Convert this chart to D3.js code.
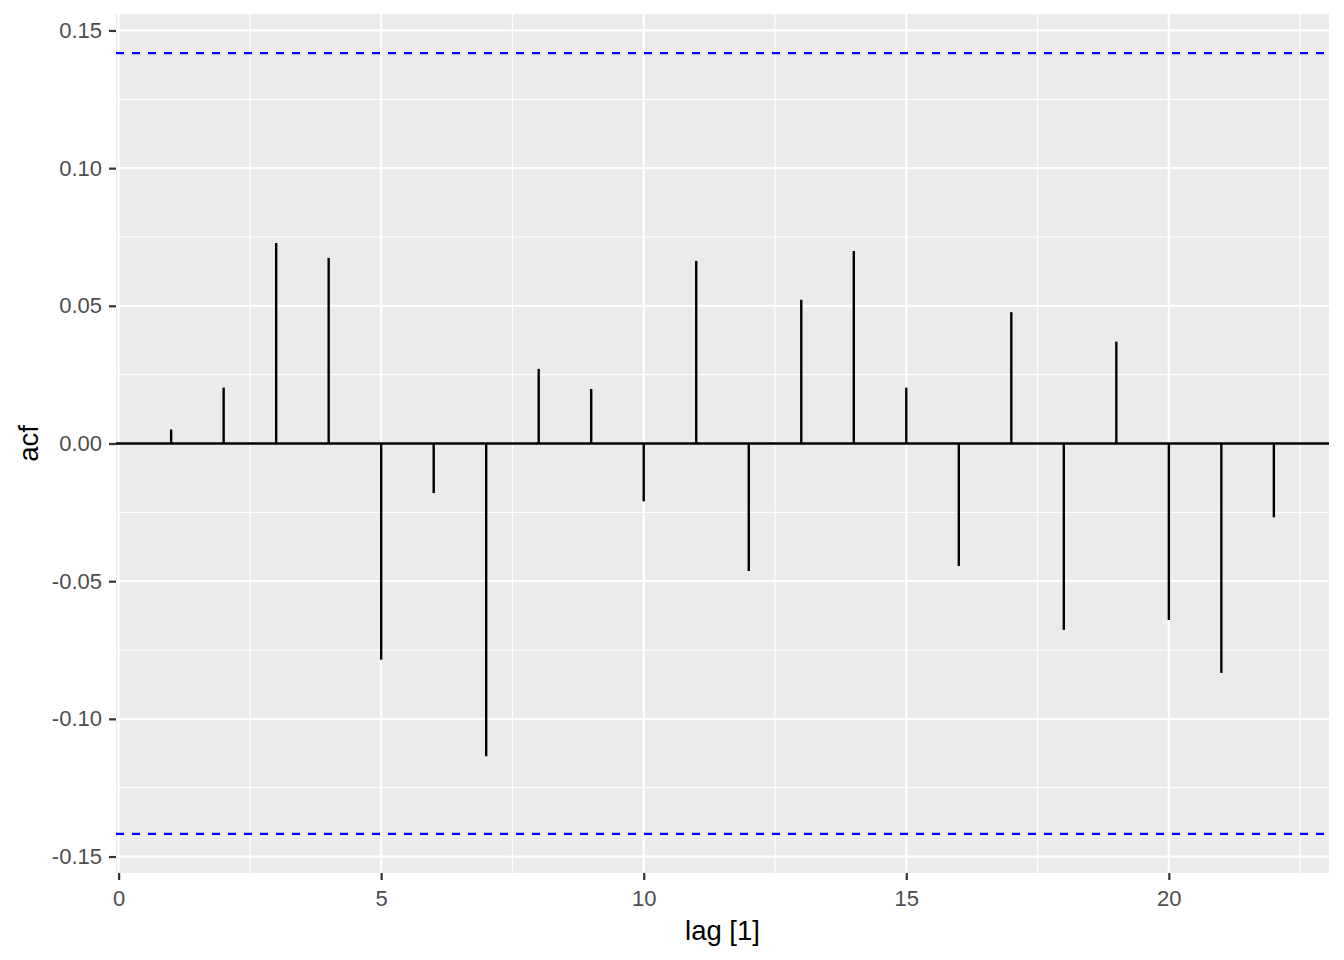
<!DOCTYPE html>
<html>
<head>
<meta charset="utf-8">
<script src="https://cdn.jsdelivr.net/npm/d3@7"></script>
<style>
  body { margin: 0; background: #fff; }
  svg { display: block; font-family: "Liberation Sans", Arial, sans-serif; }
</style>
</head>
<body>
<svg id="chart" width="1344" height="960"></svg>
<script>
const lags = [1,2,3,4,5,6,7,8,9,10,11,12,13,14,15,16,17,18,19,20,21,22];
const acfValues = [0.0051, 0.0203, 0.0728, 0.0674, -0.0785, -0.0180, -0.1136, 0.0271, 0.0198, -0.0210,
                   0.0663, -0.0463, 0.0522, 0.0699, 0.0203, -0.0445, 0.0477, -0.0677, 0.0370, -0.0641,
                   -0.0833, -0.0268];
const ciLimit = 0.1418;
const xTicks = [0, 5, 10, 15, 20];
const xMinor = [2.5, 7.5, 12.5, 17.5, 22.5];
const yTicks = [-0.15, -0.10, -0.05, 0.00, 0.05, 0.10, 0.15];
const yMinor = [-0.125, -0.075, -0.025, 0.025, 0.075, 0.125];
const xTitle = "lag [1]";
const yTitle = "acf";

const svg = d3.select("#chart");
const panel = {left: 116, right: 1329, top: 14, bottom: 873};

const xExt = d3.extent(lags);
const xPad = (xExt[1] - xExt[0]) * 0.05;
const x = d3.scaleLinear().domain([xExt[0] - xPad, xExt[1] + xPad]).range([panel.left, panel.right]);
const yPad = 2 * ciLimit * 0.05;
const y = d3.scaleLinear().domain([-ciLimit - yPad, ciLimit + yPad]).range([panel.bottom, panel.top]);

// panel background
svg.append("rect")
  .attr("x", panel.left).attr("y", panel.top)
  .attr("width", panel.right - panel.left).attr("height", panel.bottom - panel.top)
  .attr("fill", "#EBEBEB");

const grid = svg.append("g");
grid.selectAll(".ym").data(yMinor).join("line")
  .attr("x1", panel.left).attr("x2", panel.right)
  .attr("y1", d => y(d)).attr("y2", d => y(d))
  .attr("stroke", "#fff").attr("stroke-width", 1.2);
grid.selectAll(".xm").data(xMinor).join("line")
  .attr("y1", panel.top).attr("y2", panel.bottom)
  .attr("x1", d => x(d)).attr("x2", d => x(d))
  .attr("stroke", "#fff").attr("stroke-width", 1.2);
grid.selectAll(".yM").data(yTicks).join("line")
  .attr("x1", panel.left).attr("x2", panel.right)
  .attr("y1", d => y(d)).attr("y2", d => y(d))
  .attr("stroke", "#fff").attr("stroke-width", 2.2);
grid.selectAll(".xM").data(xTicks).join("line")
  .attr("y1", panel.top).attr("y2", panel.bottom)
  .attr("x1", d => x(d)).attr("x2", d => x(d))
  .attr("stroke", "#fff").attr("stroke-width", 2.2);

// segments
svg.append("g").selectAll("line").data(lags).join("line")
  .attr("x1", d => x(d)).attr("x2", d => x(d))
  .attr("y1", y(0)).attr("y2", (d, i) => y(acfValues[i]))
  .attr("stroke", "#000").attr("stroke-width", 2.4);

// zero line
svg.append("line")
  .attr("x1", panel.left).attr("x2", panel.right)
  .attr("y1", y(0)).attr("y2", y(0))
  .attr("stroke", "#000").attr("stroke-width", 2.4);

// CI lines
svg.append("g").selectAll("line").data([ciLimit, -ciLimit]).join("line")
  .attr("x1", panel.left).attr("x2", panel.right)
  .attr("y1", d => y(d)).attr("y2", d => y(d))
  .attr("stroke", "#0000FF").attr("stroke-width", 2.2)
  .attr("stroke-dasharray", "8,8");

// axes
const fmtY = d => (d < 0 ? "-" : "") + Math.abs(d).toFixed(2);
const yAxis = svg.append("g")
  .attr("transform", `translate(${panel.left},0)`)
  .call(d3.axisLeft(y).tickValues(yTicks).tickFormat(fmtY).tickSize(7).tickPadding(7));
const xAxis = svg.append("g")
  .attr("transform", `translate(0,${panel.bottom})`)
  .call(d3.axisBottom(x).tickValues(xTicks).tickFormat(d3.format("d")).tickSize(7).tickPadding(10));
[yAxis, xAxis].forEach(a => {
  a.select(".domain").remove();
  a.selectAll(".tick line").attr("stroke", "#333333").attr("stroke-width", 2.2);
  a.selectAll(".tick text").attr("fill", "#4D4D4D").style("font-size", "22px")
    .style("font-family", "'Liberation Sans', Arial, sans-serif");
});

svg.append("text")
  .attr("x", (panel.left + panel.right) / 2).attr("y", 940)
  .attr("text-anchor", "middle").attr("fill", "#000")
  .style("font-size", "27.5px").text(xTitle);
svg.append("text")
  .attr("transform", `translate(38,${(panel.top + panel.bottom) / 2}) rotate(-90)`)
  .attr("text-anchor", "middle").attr("fill", "#000")
  .style("font-size", "27.5px").text(yTitle);
</script>
</body>
</html>
